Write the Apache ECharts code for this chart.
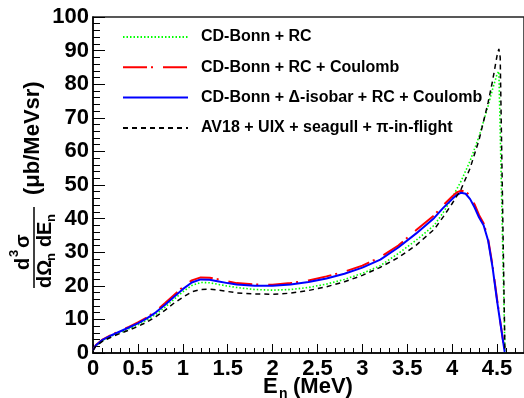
<!DOCTYPE html>
<html>
<head>
<meta charset="utf-8">
<style>
  html, body { margin: 0; padding: 0; background: #fff; }
  #chart { width: 524px; height: 398px; }
</style>
<script src="https://cdn.jsdelivr.net/npm/echarts@6/dist/echarts.min.js"></script>
</head>
<body>
<div id="chart"></div>
<script>
// ---------- data ----------

const seriesNames = [
  'CD-Bonn + RC',
  'CD-Bonn + RC + Coulomb',
  'CD-Bonn + \u0394-isobar + RC + Coulomb',
  'AV18 + UIX + seagull + \u03c0-in-flight',
];

// energy grid shared by the two CD-Bonn + Coulomb curves (MeV)
const eCoul = [0, 0.03, 0.1, 0.2, 0.3, 0.4, 0.5, 0.6, 0.7, 0.8, 0.9, 1.0, 1.1, 1.2, 1.3, 1.4, 1.5, 1.6, 1.8, 2.0,
  2.2, 2.4, 2.6, 2.8, 3.0, 3.2, 3.4, 3.6, 3.8, 3.9, 4.0, 4.05, 4.1, 4.15, 4.2, 4.25, 4.3, 4.35, 4.4, 4.45,
  4.5, 4.55, 4.585];
const vRcCoul = [0.8, 2.3, 3.9, 5.3, 6.6, 7.8, 9.1, 10.6, 12.5, 14.8, 17.2, 19.6, 21.6, 22.5, 22.4, 21.9, 21.3, 20.8, 20.4, 20.3,
  20.8, 21.6, 22.8, 24.2, 26.0, 28.5, 32.0, 36.6, 41.0, 44.0, 46.6, 47.8, 48.3, 48.1, 46.7, 44.2, 41.0, 38.6, 34.0, 26.0,
  16.0, 6.8, 0.3];
const vDeltaCoul = [0.8, 2.2, 3.8, 5.2, 6.4, 7.6, 8.8, 10.3, 12.1, 14.3, 16.7, 19.0, 21.0, 21.9, 21.8, 21.3, 20.8, 20.4, 20.0, 20.0,
  20.4, 21.1, 22.2, 23.6, 25.4, 27.8, 31.4, 35.6, 40.2, 43.2, 45.8, 47.0, 47.7, 47.4, 45.8, 43.3, 40.3, 38.0, 33.5, 25.5,
  15.5, 6.5, 0.3];

// energy grid for the curves without Coulomb (they end in the sharp FSI peak)
const eNoCoul = [0, 0.03, 0.1, 0.2, 0.3, 0.4, 0.5, 0.6, 0.7, 0.8, 0.9, 1.0, 1.1, 1.2, 1.3, 1.4, 1.5, 1.6, 1.8, 2.0,
  2.2, 2.4, 2.6, 2.8, 3.0, 3.2, 3.4, 3.6, 3.8, 3.9, 4.0, 4.1, 4.2, 4.3, 4.4, 4.45, 4.5, 4.52, 4.535, 4.588];
const vRc = [0.8, 2.1, 3.6, 5.0, 6.1, 7.2, 8.4, 9.8, 11.5, 13.6, 15.9, 18.2, 20.1, 21.0, 20.9, 20.4, 19.9, 19.5, 18.9, 18.7,
  18.9, 19.5, 20.5, 21.9, 23.7, 26.0, 29.6, 33.6, 38.0, 41.8, 46.2, 51.2, 57.2, 64.5, 73.5, 78.5, 83.0, 83.8, 66.0, 0];
const vAv18 = [0.8, 2.0, 3.4, 4.7, 5.8, 6.8, 7.9, 9.2, 10.8, 12.7, 14.8, 16.6, 18.2, 18.9, 19.0, 18.7, 18.3, 17.9, 17.6, 17.5,
  17.8, 18.6, 19.7, 21.2, 23.1, 25.5, 28.4, 32.1, 36.8, 40.5, 44.5, 48.8, 55.0, 63.5, 74.5, 81.0, 88.5, 90.5, 88.0, 0];

const xTicks = { min: 0, max: 4.8, major: 0.5, minor: 0.1 };
const yTicks = { min: 0, max: 100, major: 10, minorSplit: 5 };

// ---------- chart ----------

const FONT = '"Liberation Sans", Arial, Helvetica, sans-serif';
const pairs = (xs, ys) => xs.map((x, i) => [x, ys[i]]);

const chart = echarts.init(document.getElementById('chart'), null, { renderer: 'canvas' });

const axisLabel = { color: '#000', fontFamily: FONT, fontWeight: 'bold', fontSize: 22 };

const lineSeries = (name, data, color, width, type) => ({
  name, type: 'line', data, xAxisIndex: 0, yAxisIndex: 0,
  showSymbol: false, symbol: 'none', animation: false, clip: true,
  lineStyle: { color, width, type },
  itemStyle: { color },
  z: 3,
});

// y-axis title: a rotated fraction d^3 sigma / dOmega_n dE_n (mub/MeVsr)
const T = (text, x, y, size, extra = {}) => ({
  type: 'text', x, y,
  style: Object.assign({
    text, fill: '#000', font: `bold ${size}px ${FONT}`,
    align: 'left', verticalAlign: 'middle',
  }, extra),
});

const yTitle = {
  type: 'group', x: 34, y: 290, rotation: Math.PI / 2,
  children: [
    { type: 'line', shape: { x1: 2, y1: 0, x2: 83, y2: 0 }, style: { stroke: '#000', lineWidth: 1.5 } },
    T('d', 20, -11, 20),
    T('3', 33, -20, 13),
    T('\u03c3', 42, -11, 20),
    T('d\u03a9', 2, 11, 20),
    T('n', 29, 17, 13),
    T('d', 43, 11, 20),
    T('E', 55, 11, 20),
    T('n', 68, 17, 13),
    T('(\u03bcb/MeVsr)', 95, -1, 22),
  ],
};

const xTitle = {
  type: 'group', x: 263, y: 387,
  children: [
    T('E', 0, 0, 22),
    T('n', 16, 7, 14),
    T('(MeV)', 30, 0, 22),
  ],
};

chart.setOption({
  backgroundColor: '#fff',
  animation: false,
  textStyle: { fontFamily: FONT },
  grid: {
    left: 93, right: -1, top: 17, bottom: 45,
    show: true, borderColor: '#222', borderWidth: 1.5, backgroundColor: 'transparent',
  },
  legend: {
    orient: 'vertical', left: 122, top: 29, padding: 0,
    itemWidth: 65, itemHeight: 16, itemGap: 14.3,
    itemStyle: { opacity: 0, borderWidth: 0 },
    textStyle: { color: '#000', fontFamily: FONT, fontWeight: 'bold', fontSize: 16, lineHeight: 16, padding: [0, 0, 0, 8] },
    data: seriesNames,
    selectedMode: false,
  },
  xAxis: [
    {
      type: 'value', min: xTicks.min, max: xTicks.max, interval: xTicks.major,
      axisLine: { show: true, lineStyle: { color: '#000', width: 1.5 } },
      axisTick: { show: true, inside: true, length: 9, lineStyle: { color: '#000', width: 1 } },
      axisLabel: Object.assign({ margin: 5, showMaxLabel: false }, axisLabel),
      splitLine: { show: false },
    },
    {
      type: 'value', min: xTicks.min, max: xTicks.max, interval: xTicks.minor, position: 'bottom',
      axisLine: { show: false },
      axisTick: { show: true, inside: true, length: 5, lineStyle: { color: '#000', width: 1 } },
      axisLabel: { show: false },
      splitLine: { show: false },
    },
  ],
  yAxis: {
    type: 'value', min: yTicks.min, max: yTicks.max, interval: yTicks.major,
    axisLine: { show: true, lineStyle: { color: '#000', width: 1.5 } },
    axisTick: { show: true, inside: true, length: 12, lineStyle: { color: '#000', width: 1 } },
    minorTick: { show: true, splitNumber: yTicks.minorSplit, length: 7, lineStyle: { color: '#000', width: 1 } },
    axisLabel: Object.assign({ margin: 4 }, axisLabel),
    splitLine: { show: false },
  },
  series: [
    lineSeries(seriesNames[0], pairs(eNoCoul, vRc), '#00ff00', 1.6, [1.5, 2]),
    lineSeries(seriesNames[1], pairs(eCoul, vRcCoul), '#ff0000', 2, [24, 4, 2, 10]),
    lineSeries(seriesNames[2], pairs(eCoul, vDeltaCoul), '#0000ff', 2, 'solid'),
    lineSeries(seriesNames[3], pairs(eNoCoul, vAv18), '#000000', 1.5, [5, 4]),
  ],
  graphic: [yTitle, xTitle],
});
</script>
</body>
</html>
